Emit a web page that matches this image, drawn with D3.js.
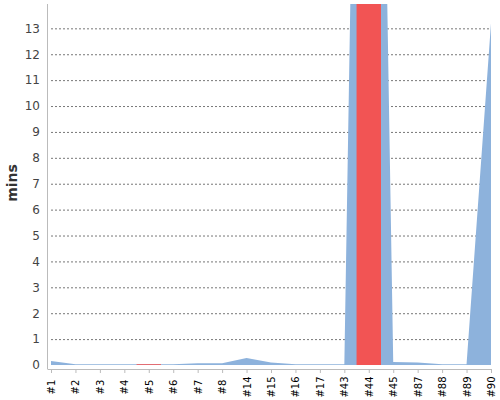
<!DOCTYPE html>
<html>
<head>
<meta charset="utf-8">
<script src="https://cdn.jsdelivr.net/npm/d3@7"></script>
<style>
  body { margin: 0; background: #fff; }
  text { font-family: "DejaVu Sans", sans-serif; }
</style>
</head>
<body>
<div id="chart"></div>
<script>
// data
var categories = ["#1", "#2", "#3", "#4", "#5", "#6", "#7", "#8", "#14", "#15", "#16", "#17", "#43", "#44", "#45", "#87", "#88", "#89", "#90"];
var areaValues = [0.15, 0.03, 0.03, 0.03, 0.03, 0.03, 0.07, 0.07, 0.27, 0.1, 0.03, 0.03, 0.03, 57, 0.12, 0.1, 0.03, 0.03, 13.2];
var barValues  = [null, null, null, null, 0.03, null, null, null, null, null, null, null, null, 57, null, null, null, null, null];
var yTicks = [0, 1, 2, 3, 4, 5, 6, 7, 8, 9, 10, 11, 12, 13];

var svgWidth = 500, svgHeight = 400;
var plotLeft = 51, plotRight = 491, plotTop = 4, plotBottom = 365;

var svg = d3.select("#chart").append("svg")
  .attr("width", svgWidth)
  .attr("height", svgHeight);

var x = d3.scalePoint().domain(categories).range([plotLeft, plotRight]);
var step = x.step();
var y = d3.scaleLinear().domain([0, 13.94]).range([plotBottom, plotTop]);

svg.append("clipPath").attr("id", "plot")
  .append("rect")
  .attr("x", plotLeft).attr("y", plotTop)
  .attr("width", plotRight - plotLeft).attr("height", plotBottom - plotTop);

// grid lines
svg.append("g")
  .selectAll("line")
  .data(yTicks.filter(d => d > 0))
  .enter().append("line")
  .attr("x1", plotLeft).attr("x2", plotRight)
  .attr("y1", d => y(d) + 0.5).attr("y2", d => y(d) + 0.5)
  .attr("stroke", "#777")
  .attr("stroke-dasharray", "2,2");

var rows = categories.map((c, i) => ({ c: c, v: areaValues[i], b: barValues[i] }));

var area = d3.area()
  .x(d => x(d.c))
  .y0(y(0))
  .y1(d => y(d.v));

svg.append("path")
  .datum(rows)
  .attr("clip-path", "url(#plot)")
  .attr("fill", "#8db2dc")
  .attr("d", area);

// red bars
svg.append("g")
  .attr("clip-path", "url(#plot)")
  .selectAll("rect")
  .data(rows.filter(d => d.b != null))
  .enter().append("rect")
  .attr("x", d => x(d.c) - step / 2)
  .attr("width", step)
  .attr("y", d => y(d.b))
  .attr("height", d => Math.max(1, y(0) - y(d.b)))
  .attr("fill", "#f25454");

// y axis
var yAxis = d3.axisLeft(y).tickValues(yTicks).tickSize(0).tickPadding(8);
var gy = svg.append("g")
  .attr("transform", "translate(48,0)")
  .call(yAxis);
gy.select(".domain").remove();
gy.selectAll("text").attr("font-size", 12).attr("fill", "#444").attr("font-family", "DejaVu Sans");
svg.append("line")
  .attr("x1", 47.5).attr("x2", 47.5)
  .attr("y1", plotTop).attr("y2", 369)
  .attr("stroke", "#bbb");

// x axis
var xAxis = d3.axisBottom(x).tickSize(4).tickSizeOuter(0);
var gx = svg.append("g")
  .attr("transform", "translate(0,369)")
  .call(xAxis);
gx.select(".domain").attr("stroke", "#bbb").attr("d", "M47.5,0.5H" + (plotRight + 0.5));
gx.selectAll(".tick line").attr("stroke", "#bbb");
gx.selectAll("text")
  .attr("font-size", 10)
  .attr("fill", "#000")
  .attr("font-family", "DejaVu Sans")
  .attr("text-anchor", "middle")
  .attr("dy", "0.35em")
  .attr("y", 0)
  .attr("transform", "translate(0,18) rotate(-90)");

// y label
svg.append("text")
  .attr("transform", "translate(17,183) rotate(-90)")
  .attr("text-anchor", "middle")
  .attr("font-size", 14)
  .attr("font-weight", "bold")
  .attr("fill", "#333")
  .text("mins");
</script>
</body>
</html>
